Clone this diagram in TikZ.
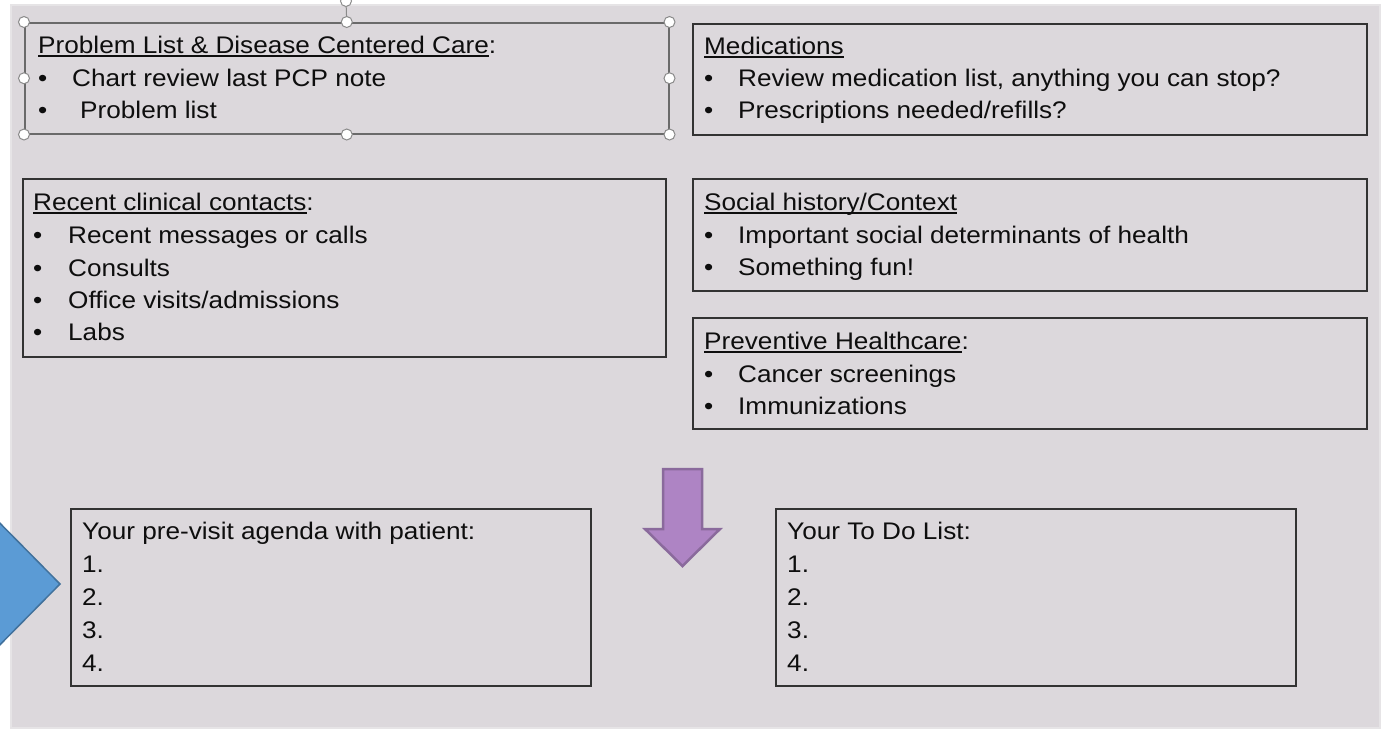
\documentclass[tikz,border=0pt]{standalone}
\usepackage{fontspec}
\setmainfont[FakeStretch=1.09]{Liberation Sans}
\definecolor{slide}{HTML}{DCD8DC}
\definecolor{slideedge}{HTML}{E6E4E6}
\definecolor{boxline}{HTML}{333333}
\definecolor{selline}{HTML}{6A6A6A}
\definecolor{handlegray}{HTML}{8A8A8A}
\definecolor{ink}{HTML}{0E0E0E}
\definecolor{plumfill}{HTML}{AE84C4}
\definecolor{plumline}{HTML}{8A6A9C}
\definecolor{bluefill}{HTML}{5B9BD5}
\definecolor{blueline}{HTML}{41719C}
% underlined heading: the rule sits just under the baseline
\newcommand\hdrline[1]{\setbox0=\hbox{#1}\rlap{\rule[-4pt]{\wd0}{1.6pt}}\box0}
\begin{document}
\begin{tikzpicture}[x=1pt,y=-1pt,
  panel/.style={draw=boxline, line width=1.5pt, anchor=north west, inner sep=0pt},
  txt/.style={anchor=base west, inner sep=0pt, text=ink, font=\fontsize{24}{28}\selectfont},
  handle/.style={circle, draw=handlegray, fill=white, line width=1pt, minimum size=11pt, inner sep=0pt}]
\useasboundingbox (0,0) rectangle (1385,732);
\fill[white] (0,0) rectangle (1385,732);
\filldraw[fill=slide, draw=slideedge, line width=1.5pt] (11,5) rectangle (1380,728);

% ---- panels ----
\node[panel, draw=selline, minimum width=644pt, minimum height=111pt] (prob) at (24,22) {};
\node[panel, minimum width=674pt, minimum height=111pt] (meds) at (692,23) {};
\node[panel, minimum width=643pt, minimum height=178pt] (recent) at (22,178) {};
\node[panel, minimum width=674pt, minimum height=112pt] (social) at (692,178) {};
\node[panel, minimum width=674pt, minimum height=111pt] (prev) at (692,317) {};
\node[panel, minimum width=520pt, minimum height=177pt] (agenda) at (70,508) {};
\node[panel, minimum width=520pt, minimum height=177pt] (todo) at (775,508) {};

% ---- problem list (selected text box) ----
\node[txt] (probh) at (38,53) {\hdrline{Problem List \& Disease Centered Care}:};
\node[txt] (probb1) at (38,86) {•};
\node[txt] (probt1) at (72,86) {Chart review last PCP note};
\node[txt] (probb2) at (38,118) {•};
\node[txt] (probt2) at (80,118) {Problem list};

% ---- medications ----
\node[txt] (medsh) at (704,54) {\hdrline{Medications}};
\node[txt] (medsb1) at (704,86) {•};
\node[txt] (medst1) at (738,86) {Review medication list, anything you can stop?};
\node[txt] (medsb2) at (704,118) {•};
\node[txt] (medst2) at (738,118) {Prescriptions needed/refills?};

% ---- recent clinical contacts ----
\node[txt] (rech) at (33,210) {\hdrline{Recent clinical contacts}:};
\node[txt] (recb1) at (33,243) {•};
\node[txt] (rect1) at (68,243) {Recent messages or calls};
\node[txt] (recb2) at (33,276) {•};
\node[txt] (rect2) at (68,276) {Consults};
\node[txt] (recb3) at (33,308) {•};
\node[txt] (rect3) at (68,308) {Office visits/admissions};
\node[txt] (recb4) at (33,340) {•};
\node[txt] (rect4) at (68,340) {Labs};

% ---- social history ----
\node[txt] (soch) at (704,210) {\hdrline{Social history/Context}};
\node[txt] (socb1) at (704,243) {•};
\node[txt] (soct1) at (738,243) {Important social determinants of health};
\node[txt] (socb2) at (704,275) {•};
\node[txt] (soct2) at (738,275) {Something fun!};

% ---- preventive healthcare ----
\node[txt] (prevh) at (704,349) {\hdrline{Preventive Healthcare}:};
\node[txt] (prevb1) at (704,382) {•};
\node[txt] (prevt1) at (738,382) {Cancer screenings};
\node[txt] (prevb2) at (704,414) {•};
\node[txt] (prevt2) at (738,414) {Immunizations};

% ---- agenda and to-do lists ----
\node[txt] (agh) at (82,539) {Your pre-visit agenda with patient:};
\node[txt] (ag1) at (82,572) {1.};
\node[txt] (ag2) at (82,605) {2.};
\node[txt] (ag3) at (82,638) {3.};
\node[txt] (ag4) at (82,671) {4.};
\node[txt] (tdh) at (787,539) {Your To Do List:};
\node[txt] (td1) at (787,572) {1.};
\node[txt] (td2) at (787,605) {2.};
\node[txt] (td3) at (787,638) {3.};
\node[txt] (td4) at (787,671) {4.};

% ---- block arrows ----
\filldraw[fill=plumfill, draw=plumline, line width=2.5pt, line join=miter]
  (663,469) -- (702,469) -- (702,529) -- (720,529) -- (682.5,566)
  -- (645,529) -- (663,529) -- cycle;
\begin{scope}
  \clip (0,0) rectangle (1385,732);
  \filldraw[fill=bluefill, draw=blueline, line width=1.5pt, line join=miter]
    (-22,501) -- (60,584) -- (-22,667) -- cycle;
\end{scope}

% ---- selection handles ----
\node[handle] (rot) at (346,1) {};
\draw[handlegray, line width=1pt] (rot) -- (prob.north);
\foreach \a in {north west,north,north east,west,east,south west,south,south east}
  \node[handle] at (prob.\a) {};
\end{tikzpicture}
\end{document}
